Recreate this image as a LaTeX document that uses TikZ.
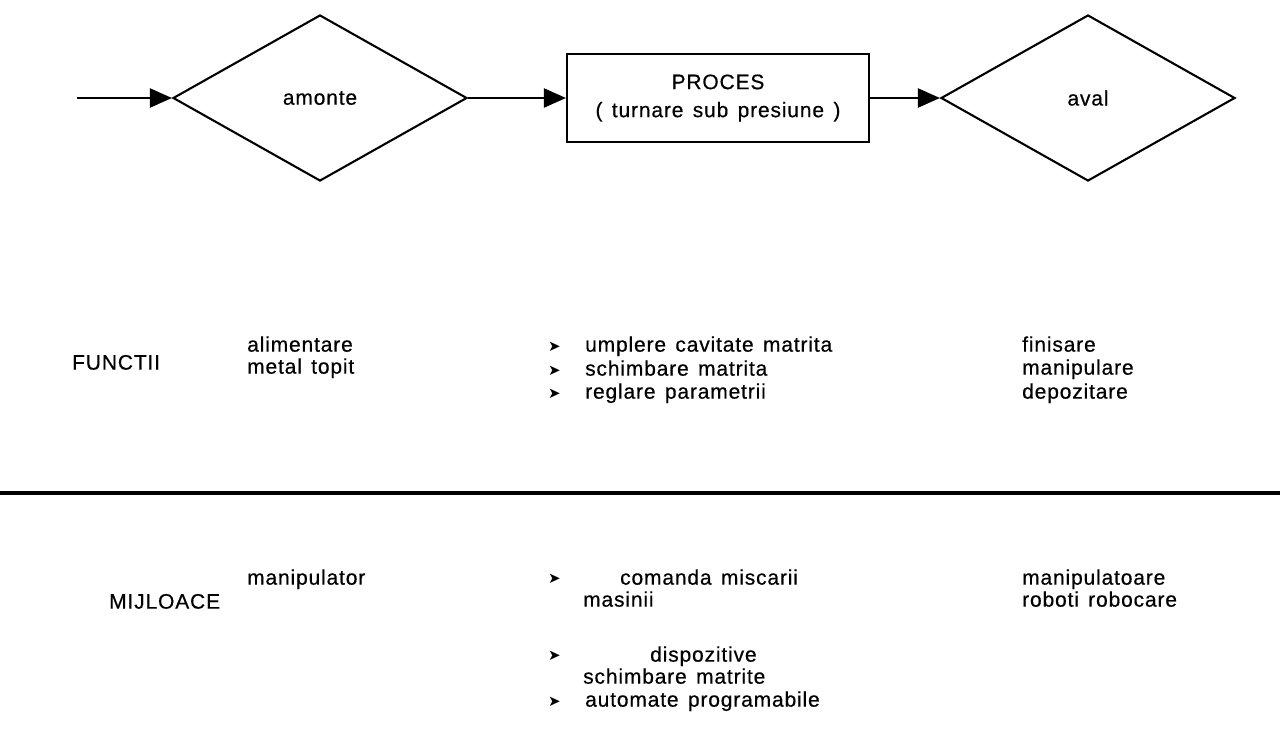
\documentclass[tikz,border=0pt]{standalone}
\usepackage{fontspec}
\setmainfont{Liberation Sans}[LetterSpace=4,WordSpace=1.4,FakeBold=0.5]
\newfontfamily\dvfont{DejaVu Sans}
\usetikzlibrary{shapes.geometric,arrows.meta}
\newcommand\bul{{\dvfont\fontsize{15}{15}\selectfont ➤}}
\newcommand\bitem[1]{\makebox[37pt][l]{\bul}#1}
\begin{document}
\begin{tikzpicture}[x=1pt,y=-1pt,
  every node/.style={font=\fontsize{21}{28}\selectfont, inner sep=0pt},
  stage/.style={diamond, draw, line width=2.1pt, minimum width=294pt, minimum height=166pt},
  procbox/.style={rectangle, draw, line width=2.1pt, minimum width=302pt, minimum height=88pt, align=center},
  flow/.style={line width=2.1pt, -{Triangle[length=22pt,width=19pt]}},
  lbl/.style={anchor=mid west}]
\useasboundingbox (0,0) rectangle (1280,736);

% process chain
\coordinate (in) at (77,98);
\node[stage] (amonte) at (320,98) {amonte};
\node[procbox] (proces) at (718,98) {PROCES\\( turnare sub presiune )};
\node[stage] (aval) at (1088,98) {aval};
\draw[flow] (in) -- (amonte.west);
\draw[flow] (amonte.east) -- (proces.west);
\draw[flow] (proces.east) -- (aval.west);

% functions row
\node[lbl] (functii) at (72,367) {FUNCTII};
\node[lbl] (fa1) at (247,349) {alimentare};
\node[lbl] (fa2) at (247,371) {metal topit};
\node[lbl] (fp1) at (548,349) {\bitem{umplere cavitate matrita}};
\node[lbl] (fp2) at (548,373) {\bitem{schimbare matrita}};
\node[lbl] (fp3) at (548,396) {\bitem{reglare parametrii}};
\node[lbl] (fv1) at (1022,349) {finisare};
\node[lbl] (fv2) at (1022,372) {manipulare};
\node[lbl] (fv3) at (1022,396) {depozitare};

% separator
\coordinate (sepl) at (0,493);
\coordinate (sepr) at (1280,493);
\draw[line width=4.5pt] (sepl) -- (sepr);

% means row
\node[lbl] (mijloace) at (109,606) {MIJLOACE};
\node[lbl] (ma1) at (247,582) {manipulator};
\node[lbl] (mp1b) at (548,581) {\bul};
\node[lbl] (mp1) at (620,582) {comanda miscarii};
\node[lbl] (mp1c) at (583,604) {masinii};
\node[lbl] (mp2b) at (548,658) {\bul};
\node[lbl] (mp2) at (650,659) {dispozitive};
\node[lbl] (mp2c) at (583,681) {schimbare matrite};
\node[lbl] (mp3) at (548,704) {\bitem{automate programabile}};
\node[lbl] (mv1) at (1022,582) {manipulatoare};
\node[lbl] (mv2) at (1022,604) {roboti robocare};
\end{tikzpicture}
\end{document}
